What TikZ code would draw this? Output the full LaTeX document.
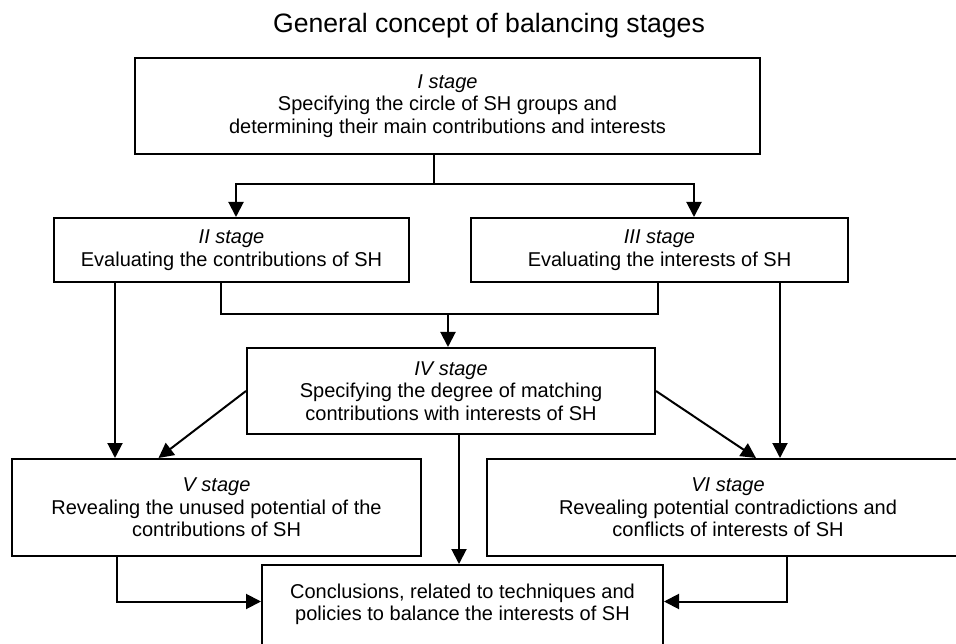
\documentclass[tikz,border=0pt]{standalone}
\usepackage{fontspec}
\setmainfont{Liberation Sans}
\usetikzlibrary{positioning,arrows.meta}

\begin{document}
\begin{tikzpicture}[
  x=1pt, y=-1pt,
  font=\fontsize{20}{22.7}\selectfont,
  stage/.style={draw, line width=2pt, align=center, inner sep=0pt},
  line/.style={line width=2pt},
  arrow/.style={line, -{Triangle[length=15pt,width=15pt]}},
]
  \useasboundingbox (0,0) rectangle (956,644);
  \clip (0,0) rectangle (956,644);

  \node[font=\fontsize{26.6}{30}\selectfont] (title) at (489,26) {General concept of balancing stages};

  \node[stage, minimum width=625pt, minimum height=96pt] (stI) at (447.5,106) {\textit{I stage}\\Specifying the circle of SH groups and\\determining their main contributions and interests};
  \node[stage, minimum width=355pt, minimum height=64pt] (stII) at (231.5,250) {\textit{II stage}\\Evaluating the contributions of SH};
  \node[stage, minimum width=377pt, minimum height=64pt] (stIII) at (659.5,250) {\textit{III stage}\\Evaluating the interests of SH};
  \node[stage, minimum width=408pt, minimum height=86pt] (stIV) at (451,391) {\textit{IV stage}\\Specifying the degree of matching\\contributions with interests of SH};
  \node[stage, minimum width=409pt, minimum height=97pt] (stV) at (216.5,507.5) {\textit{V stage}\\Revealing the unused potential of the\\contributions of SH};
  \node[stage, minimum width=482pt, minimum height=97pt] (stVI) at (728,507.5) {\textit{VI stage}\\Revealing potential contradictions and\\conflicts of interests of SH};
  \node[stage, minimum width=401pt, minimum height=97pt] (concl) at (462.5,613.5) {Conclusions, related to techniques and\\policies to balance the interests of SH\\\mbox{}};

  % I -> II, III
  \coordinate (splitI) at (434,184);
  \draw[line] (stI.south -| splitI) -- (splitI);
  \draw[arrow] (splitI) -| ([xshift=4.5pt]stII.north);
  \draw[arrow] (splitI) -| ([xshift=34.5pt]stIII.north);

  % II, III -> IV
  \coordinate (joinII) at (448,314);
  \draw[line] ([xshift=-10.5pt]stII.south) |- (joinII) -| ([xshift=-1.5pt]stIII.south);
  \draw[arrow] (joinII) -- (joinII |- stIV.north);

  % II -> V, III -> VI
  \draw[arrow] ([xshift=-116.5pt]stII.south) -- ([xshift=-101.5pt]stV.north);
  \draw[arrow] ([xshift=120.5pt]stIII.south) -- ([xshift=52pt]stVI.north);

  % IV -> V, VI, conclusions
  \draw[arrow] (stIV.west) -- ([xshift=-58pt]stV.north);
  \draw[arrow] (stIV.east) -- ([xshift=28pt]stVI.north);
  \draw[arrow] ([xshift=8pt]stIV.south) -- ([xshift=-3.5pt]concl.north);

  % V, VI -> conclusions
  \draw[arrow] ([xshift=-99.5pt]stV.south) |- ([yshift=12pt]concl.west);
  \draw[arrow] ([xshift=59pt]stVI.south) |- ([yshift=12pt]concl.east);
\end{tikzpicture}
\end{document}
